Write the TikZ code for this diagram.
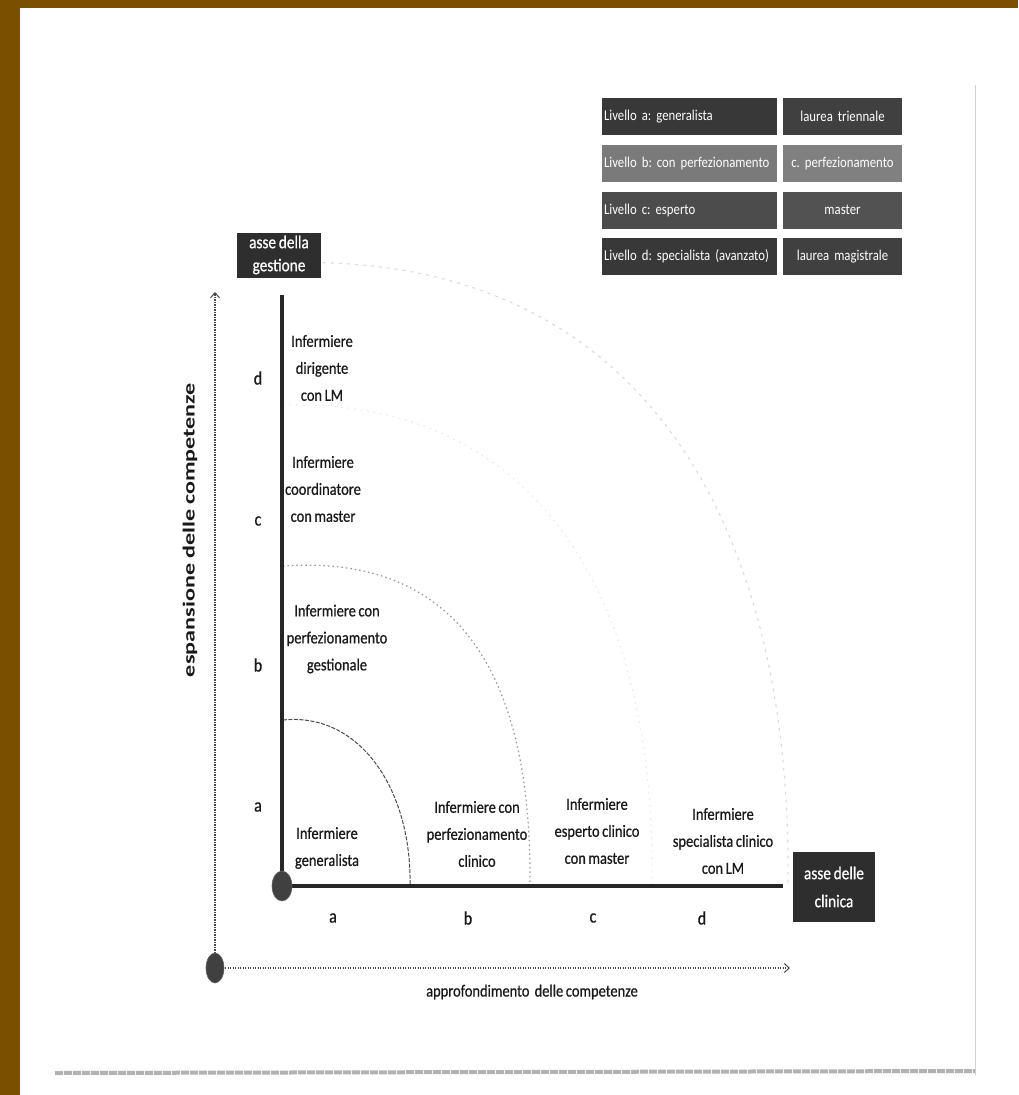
\documentclass[tikz,border=0pt]{standalone}
\usepackage{fontspec}
\setmainfont[FakeStretch=0.85,FakeBold=0.6,WordSpace=0.8]{Carlito}
\newfontfamily\legfont[FakeStretch=0.85,WordSpace=0.8]{Carlito}
\newfontfamily\vfont[FakeStretch=1.42,WordSpace=0.9]{Carlito}
\frenchspacing
\usetikzlibrary{arrows.meta,shapes.geometric}
\definecolor{brownedge}{RGB}{122,80,0}
\definecolor{ink}{RGB}{25,25,25}
\tikzset{
  label txt/.style={text=ink, align=center, inner sep=1pt, font=\fontsize{17}{27}\selectfont},
  letter/.style={text=ink, inner sep=1pt, font=\fontsize{19}{22}\selectfont},
  legL/.style={text=white, align=left, text width=171pt, inner xsep=2pt, inner ysep=0pt, minimum height=37pt, font=\legfont\fontsize{15}{18}\selectfont},
  legR/.style={text=white, align=center, text width=115pt, inner xsep=2pt, inner ysep=0pt, minimum height=37pt, font=\legfont\fontsize{15}{18}\selectfont},
  axisbox/.style={fill=black!82, text=white, align=center, inner sep=1pt, font=\fontsize{18}{23}\selectfont},
  thickaxis/.style={line width=4pt, black!85},
  dotaxis/.style={line width=1.3pt, black!72, dash pattern=on 1.3pt off 1.2pt, -{Straight Barb[length=5pt,width=9pt,line width=1pt]}},
  dotnode/.style={ellipse, fill=black!75, draw=black!60, line width=0.6pt, minimum width=20pt, minimum height=30pt, inner sep=0pt},
  arcA/.style={black!70, line width=1pt, dash pattern=on 4pt off 1.5pt},
  arcB/.style={black!40, line width=1.2pt, dash pattern=on 1.5pt off 3pt},
  arcC/.style={black!9, line width=1.1pt, dash pattern=on 1.5pt off 5pt},
  arcD/.style={black!14, line width=1.1pt, dash pattern=on 3pt off 5pt}
}
\begin{document}
\begin{tikzpicture}[x=1pt,y=-1pt]
\fill[white] (0,0) rectangle (1018,1095);
\useasboundingbox (0,0) rectangle (1018,1095);
% scanned page edges
\fill[brownedge] (0,0) rectangle (20,1095);
\fill[brownedge] (0,0) rectangle (1018,8);
\draw[black!18, line width=1pt] (975,85) -- (975,1075);
\draw[black!30, line width=4pt, dash pattern=on 8pt off 1pt] (55,1073) -- (975,1071);

% coordinates
\coordinate (O1) at (282,886);
\coordinate (vtop) at (282,295);
\coordinate (hend) at (783,886);
\coordinate (O2) at (215,968);
\coordinate (v2top) at (215,292);
\coordinate (h2end) at (790,968);

% arcs
\draw[arcD] (283,263) .. controls (640,250) and (792,520) .. (788,884);
\draw[arcC] (283,405) .. controls (540,398) and (656,600) .. (652,884);
\draw[arcB] (283,566) .. controls (440,555) and (532,650) .. (530,884);
\draw[arcA] (283,720) .. controls (360,712) and (412,790) .. (410,886);

% legend
\node[legL, fill=black!78] (l1) at (689.5,116.5) {\mbox{Livello a: generalista}};
\node[legL, fill=black!52] (l2) at (689.5,163.5) {\mbox{Livello b: con perfezionamento}};
\node[legL, fill=black!70] (l3) at (689.5,210) {\mbox{Livello c: esperto}};
\node[legL, fill=black!78] (l4) at (689.5,256.5) {\mbox{Livello d: specialista (avanzato)}};
\node[legR, fill=black!75] (r1) at (842.5,116.5) {laurea triennale};
\node[legR, fill=black!50] (r2) at (842.5,163.5) {c. perfezionamento};
\node[legR, fill=black!68] (r3) at (842.5,210) {master};
\node[legR, fill=black!75] (r4) at (842.5,256.5) {laurea magistrale};

% axis boxes
\node[axisbox, minimum width=84pt, minimum height=45pt] (gestione) at (279,255) {asse della\\gestione};
\node[axisbox, minimum width=82pt, minimum height=70pt, font=\fontsize{18}{28}\selectfont] (clinica) at (834,887) {asse delle\\clinica};

% axes
\draw[dotaxis] (O2) -- (v2top);
\draw[dotaxis] (O2) -- (h2end);
\draw[thickaxis] (O1) -- (vtop);
\draw[thickaxis] (O1) -- (hend);
\node[dotnode] (dot1) at (O1) {};
\node[dotnode, minimum width=18pt, minimum height=30pt] (dot2) at (O2) {};

% axis titles
\node[text=ink, rotate=90, inner sep=1pt, font=\vfont\bfseries\fontsize{17}{20}\selectfont] (vtitle) at (190,530) {espansione delle competenze};
\node[text=ink, inner sep=1pt, font=\fontsize{17}{20}\selectfont] (htitle) at (532,992) {approfondimento\ \ delle competenze};

% level letters, vertical
\node[letter] (vd) at (258,378) {d};
\node[letter] (vc) at (258,521) {c};
\node[letter] (vb) at (258,665) {b};
\node[letter] (va) at (258,807) {a};
% level letters, horizontal
\node[letter] (ha) at (333,918) {a};
\node[letter] (hb) at (468,918) {b};
\node[letter] (hc) at (593,918) {c};
\node[letter] (hd) at (702,918) {d};

% role labels
\node[label txt] (dirig) at (322,368) {Infermiere\\dirigente\\con LM};
\node[label txt] (coord) at (323,489) {Infermiere\\coordinatore\\con master};
\node[label txt] (gest) at (337,639) {Infermiere con\\perfezionamento\\gestionale};
\node[label txt] (gen) at (327,848) {Infermiere\\generalista};
\node[label txt] (clin) at (477,834) {Infermiere con\\perfezionamento\\clinico};
\node[label txt] (esp) at (597,831) {Infermiere\\esperto clinico\\con master};
\node[label txt] (spec) at (723,841) {Infermiere\\specialista clinico\\con LM};
\end{tikzpicture}
\end{document}
